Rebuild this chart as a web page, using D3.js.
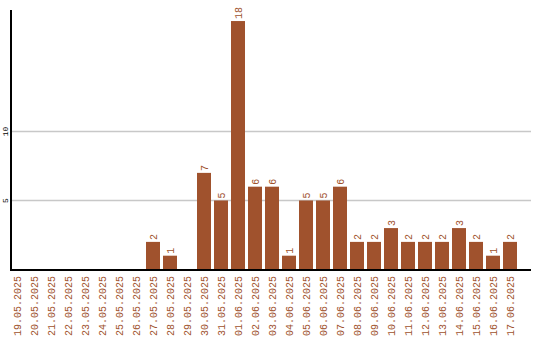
<!DOCTYPE html>
<html><head><meta charset="utf-8">
<script src="https://cdn.jsdelivr.net/npm/d3@7"></script>
<style>body{margin:0;background:#fff}svg{display:block}</style>
</head><body>
<script>
const dates = ["19.05.2025","20.05.2025","21.05.2025","22.05.2025","23.05.2025","24.05.2025","25.05.2025","26.05.2025","27.05.2025","28.05.2025","29.05.2025","30.05.2025","31.05.2025","01.06.2025","02.06.2025","03.06.2025","04.06.2025","05.06.2025","06.06.2025","07.06.2025","08.06.2025","09.06.2025","10.06.2025","11.06.2025","12.06.2025","13.06.2025","14.06.2025","15.06.2025","16.06.2025","17.06.2025"];
const counts = [0,0,0,0,0,0,0,0,2,1,0,7,5,18,6,6,1,5,5,6,2,2,3,2,2,2,3,2,1,2];
const yTicks = [5,10];

const W=540,H=340, color="#a0522d";
const svg=d3.select("body").append("svg").attr("width",W).attr("height",H);
const x=d3.scaleBand().domain(dates).range([10,520]).padding(0);
const y=d3.scaleLinear().domain([0,18.8]).range([269.5,10]);
const font="'Liberation Mono', 'Courier New', monospace";

// gridlines
svg.append("g").selectAll("line").data(yTicks).join("line")
  .attr("x1",11).attr("x2",531).attr("y1",d=>Math.round(y(d))+0.5).attr("y2",d=>Math.round(y(d))+0.5)
  .attr("stroke","#c8c8c8").attr("stroke-width",1.5);
// y tick labels
svg.append("g").selectAll("text").data(yTicks).join("text")
  .attr("transform",d=>`translate(7.5,${y(d)}) rotate(-90)`)
  .attr("text-anchor","middle").attr("font-family",font).attr("font-size",8).attr("fill","#000")
  .text(d=>d);

const bw=x.bandwidth()-3;
svg.append("g").selectAll("rect").data(counts.map((v,i)=>({d:dates[i],v}))).join("rect")
  .attr("x",d=>x(d.d)).attr("width",bw)
  .attr("y",d=>y(d.v)).attr("height",d=>y(0)-y(d.v)).attr("fill",color);
// value labels
svg.append("g").selectAll("text").data(counts.map((v,i)=>({d:dates[i],v})).filter(d=>d.v>0)).join("text")
  .attr("transform",d=>`translate(${x(d.d)+bw/2+3.5},${y(d.v)-2}) rotate(-90)`)
  .attr("text-anchor","start").attr("font-family",font).attr("font-size",10).attr("fill",color)
  .text(d=>d.v);
// axes lines
svg.append("line").attr("x1",11).attr("x2",11).attr("y1",10).attr("y2",271).attr("stroke","#000").attr("stroke-width",2);
svg.append("line").attr("x1",10).attr("x2",531).attr("y1",270).attr("y2",270).attr("stroke","#000").attr("stroke-width",2);
// x labels
svg.append("g").selectAll("text").data(dates).join("text")
  .attr("transform",d=>`translate(${x(d)+bw/2+3.5},276) rotate(-90)`)
  .attr("text-anchor","end").attr("font-family",font).attr("font-size",10).attr("fill",color)
  .text(d=>d);
</script>
</body></html>
